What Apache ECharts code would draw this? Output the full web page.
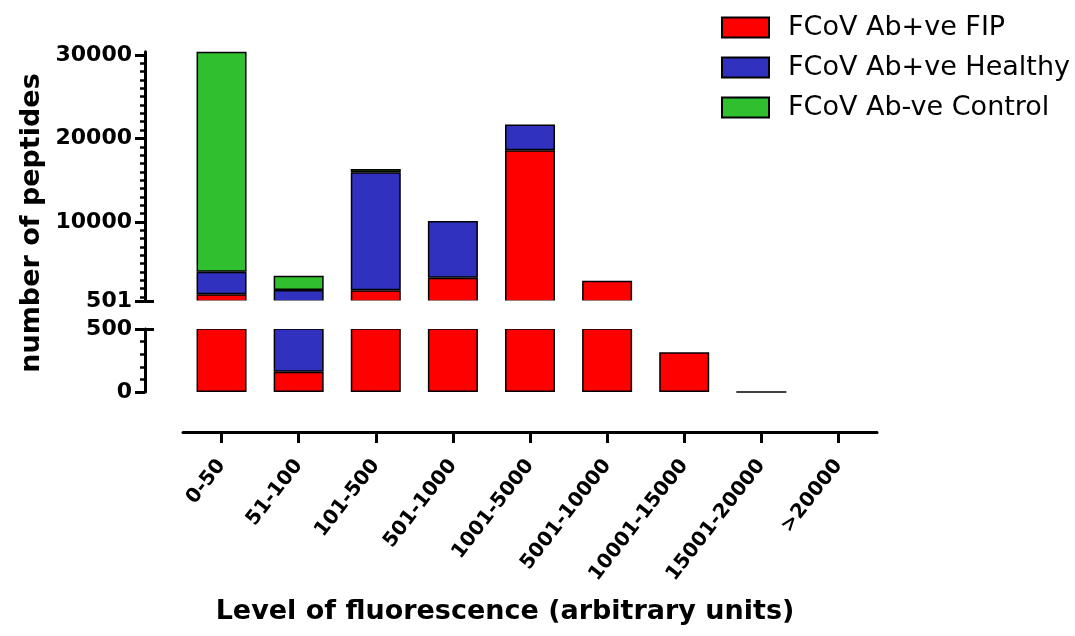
<!DOCTYPE html>
<html>
<head>
    <meta charset="utf-8">
    <title>peptides</title>
    <script src="https://cdn.jsdelivr.net/npm/echarts@6/dist/echarts.min.js"></script>
</head>
<body style="margin:0;background:#fff;">
<div id="main" style="width:1075px;height:636px;"></div>
<script type="text/javascript">
    // categories and values
    var categories = ['0-50', '51-100', '101-500', '501-1000', '1001-5000',
                      '5001-10000', '10001-15000', '15001-20000', '>20000'];
    var fip     = [1300, 160, 1800, 3290, 18580, 2930, 315, 0, null];
    var healthy = [2700, 1660, 14130, 6800, 3080, null, null, null, null];
    var control = [26400, 1715, 395, null, null, null, null, null, null];

    var seriesNames = ['FCoV Ab+ve FIP', 'FCoV Ab+ve Healthy', 'FCoV Ab-ve Control'];
    var seriesColors = ['#ff0000', '#3131bf', '#2fbf2f'];

    // broken y axis: upper part 501..30000, lower part 0..500
    var upperTicks = [501, 10000, 20000, 30000];
    var lowerTicks = [0, 500];
    var lowerMinor = [100, 200, 300, 400];
    var upperMinor = [];
    for (var v = 1000; v < 30000; v += 1000) {
        if (v % 10000 !== 0) upperMinor.push(v);
    }

    var font = 'DejaVu Sans';
    var black = '#000';

    var myChart = echarts.init(document.getElementById('main'));

    function mainY(grid, min, max, ticks) {
        return {
            type: 'value', gridIndex: grid, min: min, max: max,
            position: 'left', offset: 38,
            axisLine: {show: true, lineStyle: {color: black, width: 3}},
            axisTick: {show: true, customValues: ticks, length: 10, lineStyle: {color: black, width: 3}},
            axisLabel: {
                customValues: ticks, color: black, fontFamily: font, fontWeight: 'bold', fontSize: 22, margin: 13,
                formatter: function (val) { return String(val); }
            },
            splitLine: {show: false}
        };
    }
    function tickY(grid, min, max, ticks, len, inside) {
        return {
            type: 'value', gridIndex: grid, min: min, max: max,
            position: 'left', offset: 38,
            axisLine: {show: false},
            axisTick: {show: true, customValues: ticks, length: len, inside: inside, lineStyle: {color: black, width: inside ? 3 : 2.5}},
            axisLabel: {show: false},
            splitLine: {show: false}
        };
    }

    var data = [fip, healthy, control];
    var series = [];
    [0, 1].forEach(function (part) {
        data.forEach(function (vals, i) {
            series.push({
                name: seriesNames[i],
                type: 'bar',
                stack: part === 0 ? 'up' : 'low',
                xAxisIndex: part,
                yAxisIndex: part === 0 ? 0 : 3,
                barWidth: 50,
                data: vals,
                itemStyle: {color: seriesColors[i], borderColor: black, borderWidth: 1.5}
            });
        });
    });

    myChart.setOption({
        animation: false,
        grid: [
            {left: 183, right: 198, top: 51.7, bottom: 335},
            {left: 183, right: 198, top: 329, bottom: 244}
        ],
        legend: {
            data: seriesNames,
            orient: 'vertical',
            left: 716, top: 9,
            itemWidth: 47, itemHeight: 20, itemGap: 13,
            icon: 'rect',
            textStyle: {fontFamily: font, fontSize: 27, color: black, padding: [0, 0, 0, 14]}
        },
        xAxis: [
            {type: 'category', gridIndex: 0, data: categories, show: false},
            {
                type: 'category', gridIndex: 1, data: categories, offset: 40,
                axisLine: {show: true, onZero: false, lineStyle: {color: black, width: 3}},
                axisTick: {show: true, inside: false, alignWithLabel: true, interval: 0, length: 11,
                           lineStyle: {color: black, width: 3}},
                axisLabel: {rotate: 52, color: black, fontFamily: font, fontWeight: 'bold', fontSize: 20, margin: 30, interval: 0}
            }
        ],
        yAxis: [
            mainY(0, 501, 30400, upperTicks),
            tickY(0, 501, 30400, upperMinor, 5, false),
            tickY(0, 501, 30400, [501], 9, true),
            mainY(1, 0, 500, lowerTicks),
            tickY(1, 0, 500, lowerMinor, 5, false),
            tickY(1, 0, 500, [500], 9, true)
        ],
        graphic: [
            // white strip hiding the clipped bar edges at the axis break
            {type: 'rect', left: 183, top: 300.5, shape: {width: 694, height: 28.5}, style: {fill: '#fff'}, z: 100},
            {type: 'text', x: 32, y: 223, rotation: Math.PI / 2,
             style: {text: 'number of peptides', fontFamily: font, fontWeight: 'bold', fontSize: 27, fill: black,
                     align: 'center', verticalAlign: 'middle'}},
            {type: 'text', x: 505, y: 612,
             style: {text: 'Level of fluorescence (arbitrary units)', fontFamily: font, fontWeight: 'bold', fontSize: 27, fill: black,
                     align: 'center', verticalAlign: 'middle'}}
        ],
        series: series
    });
</script>
</body>
</html>
